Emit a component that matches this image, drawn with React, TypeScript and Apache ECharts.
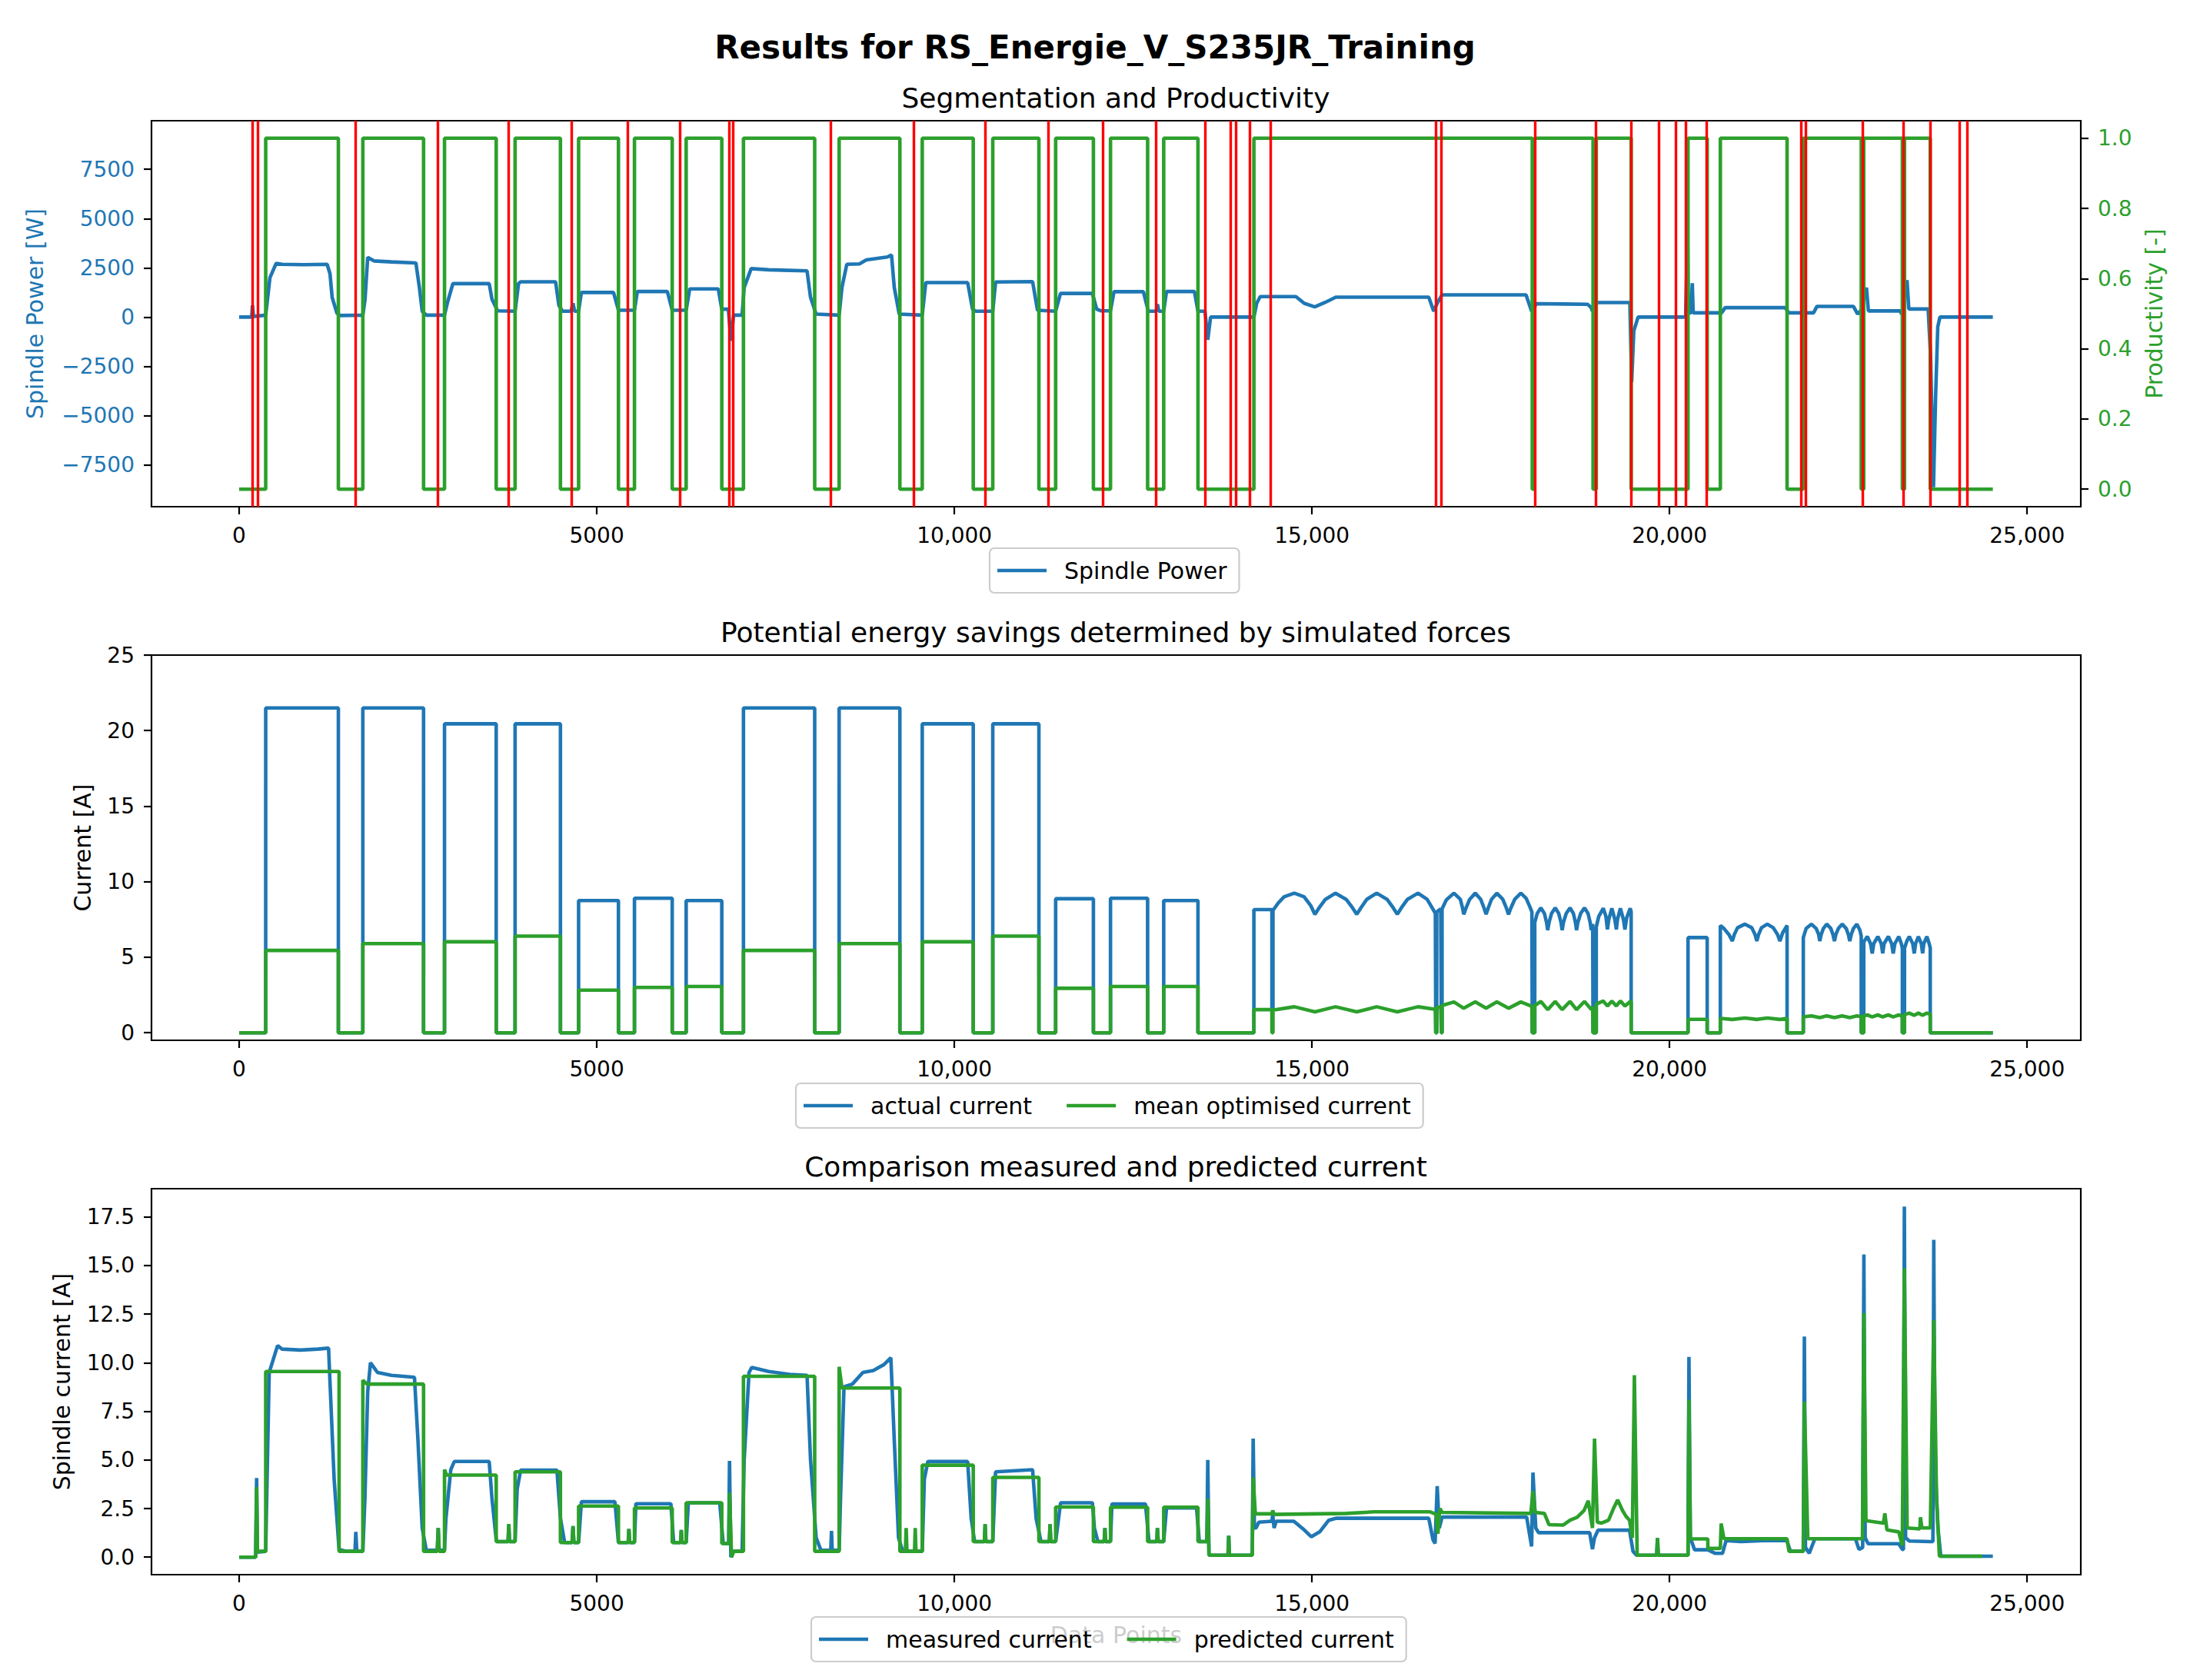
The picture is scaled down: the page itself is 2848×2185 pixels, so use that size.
import React, { useEffect, useRef } from 'react';
import * as echarts from 'echarts';

const FONT = 'DejaVu Sans';
const BLUE = '#1f77b4';
const GREEN = '#2ca02c';
const RED = '#ff0000';
const LINE_W = 4.6;

// tick positions
const xTicks = [0, 5000, 10000, 15000, 20000, 25000];
const powerTicks = [-7500, -5000, -2500, 0, 2500, 5000, 7500];
const productivityTicks = [0, 0.2, 0.4, 0.6, 0.8, 1];
const currentTicks = [0, 5, 10, 15, 20, 25];
const spindleCurrentTicks = [0, 2.5, 5, 7.5, 10, 12.5, 15, 17.5];

// segment boundaries (red vertical lines)
const segmentLines = [
  186, 264, 1621, 2773, 3770, 4648, 5430, 6162, 6856, 6905, 8272, 9434, 10430, 11318,
  12076, 12819, 13504, 13866, 13934, 14130, 14423, 16731, 16809, 18120, 18965, 19468,
  19850, 20082, 20222, 20520, 21840, 21902, 22700, 23272, 23650, 24058, 24164,
];

// productivity, value holds from x until the next point
const productivitySteps = [
  [0, 0], [371, 1], [1387, 0], [1729, 1], [2578, 0], [2871, 1], [3594, 0], [3858, 1],
  [4492, 0], [4746, 1], [5303, 0], [5527, 1], [6055, 0], [6250, 1], [6748, 0], [7051, 1],
  [8047, 0], [8389, 1], [9238, 0], [9551, 1], [10264, 0], [10537, 1], [11182, 0], [11416, 1],
  [11944, 0], [12183, 1], [12702, 0], [12927, 1], [13406, 0], [14188, 1], [18080, 0], [18110, 1],
  [18930, 0], [18975, 1], [19463, 0], [20258, 1], [20526, 0], [20710, 1], [21643, 0], [21870, 1],
  [22680, 0], [22715, 1], [23255, 0], [23285, 1], [23645, 0], [24520, 0],
];

// spindle power [W]
const spindlePower = [
  [0, 0], [175, 0], [186, 600], [200, 30], [322, 80], [371, 100], [430, 2000], [518, 2730],
  [600, 2680], [900, 2660], [1230, 2680], [1270, 2200], [1300, 1000], [1367, 200], [1416, 80],
  [1729, 100], [1760, 900], [1797, 3030], [1885, 2850], [2129, 2800], [2471, 2750], [2520, 1500],
  [2559, 300], [2617, 100], [2871, 100], [2910, 700], [2988, 1700], [3496, 1700], [3535, 900],
  [3613, 320], [3858, 300], [3906, 1700], [3936, 1790], [4424, 1790], [4470, 600], [4520, 300],
  [4640, 300], [4668, 700], [4690, 300], [4746, 300], [4785, 1250], [5234, 1250], [5303, 350],
  [5527, 350], [5567, 1300], [5987, 1300], [6055, 350], [6250, 350], [6299, 1430], [6699, 1430],
  [6748, 400], [6840, 400], [6875, -1200], [6914, 100], [7032, 100], [7061, 1500], [7159, 2460],
  [7403, 2400], [7940, 2350], [7989, 1000], [8067, 150], [8389, 100], [8428, 1500], [8496, 2680],
  [8672, 2700], [8770, 2900], [9063, 3050], [9121, 3150], [9160, 1500], [9229, 150], [9551, 100],
  [9600, 1750], [10186, 1750], [10254, 400], [10300, 300], [10537, 300], [10576, 1780],
  [11094, 1800], [11162, 350], [11416, 300], [11484, 1200], [11930, 1200], [11990, 400],
  [12050, 320], [12183, 320], [12232, 1290], [12643, 1290], [12711, 300], [12820, 300],
  [12839, 650], [12860, 300], [12927, 300], [12966, 1300], [13357, 1300], [13406, 300],
  [13504, 300], [13543, -1150], [13582, 0], [14188, 0], [14227, 700], [14276, 1040],
  [14775, 1040], [14892, 700], [15039, 520], [15186, 750], [15333, 1010], [16633, 1010],
  [16702, 300], [16751, 700], [16819, 1130], [17993, 1130], [18071, 300], [18139, 680],
  [18853, 650], [18900, 500], [18922, 300], [18990, 740], [19445, 740], [19470, -3290],
  [19500, -700], [19560, 0], [20225, 0], [20250, 4570], [20262, 200], [20300, 220],
  [20318, 1716], [20330, 218], [20727, 218], [20777, 480], [21617, 480], [21667, 218],
  [22013, 218], [22061, 545], [22570, 545], [22629, 155], [22680, 350], [22753, 1494],
  [22780, 312], [23222, 312], [23247, 150], [23320, 1872], [23345, 413], [23616, 413],
  [23650, -2000], [23690, -8630], [23720, -4000], [23750, -500], [23780, 0], [24520, 0],
];

// actual current [A]
const actualCurrent = [
  [0, 0], [371, 0], [371, 21.5], [1387, 21.5], [1387, 0],
  [1729, 0], [1729, 21.5], [2578, 21.5], [2578, 0],
  [2871, 0], [2871, 20.45], [3594, 20.45], [3594, 0],
  [3858, 0], [3858, 20.45], [4492, 20.45], [4492, 0],
  [4746, 0], [4746, 8.75], [5303, 8.75], [5303, 0],
  [5527, 0], [5527, 8.9], [6055, 8.9], [6055, 0],
  [6250, 0], [6250, 8.75], [6748, 8.75], [6748, 0],
  [7051, 0], [7051, 21.5], [8047, 21.5], [8047, 0],
  [8389, 0], [8389, 21.5], [9238, 21.5], [9238, 0],
  [9551, 0], [9551, 20.45], [10264, 20.45], [10264, 0],
  [10537, 0], [10537, 20.45], [11182, 20.45], [11182, 0],
  [11416, 0], [11416, 8.87], [11944, 8.87], [11944, 0],
  [12183, 0], [12183, 8.9], [12702, 8.9], [12702, 0],
  [12927, 0], [12927, 8.75], [13406, 8.75], [13406, 0],
  [14188, 0], [14188, 8.15], [14440, 8.15], [14440, 1.5], [14455, 1.5], [14455, 8.1],
  [14530, 8.6], [14610, 9.0], [14753, 9.24], [14890, 9.0], [14985, 8.4], [15041, 7.84],
  [15100, 8.27], [15188, 8.83], [15329, 9.24], [15478, 8.83], [15567, 8.27], [15627, 7.84],
  [15684, 8.27], [15766, 8.83], [15905, 9.24], [16050, 8.83], [16136, 8.27], [16193, 7.84],
  [16250, 8.27], [16335, 8.83], [16482, 9.24], [16610, 8.83], [16680, 8.27], [16725, 7.9],
  [16731, 0], [16745, 0], [16745, 8.0], [16800, 8.2], [16809, 0], [16819, 0], [16819, 8.2],
  [16880, 8.8], [16985, 9.24], [17075, 8.83], [17105, 8.27], [17122, 7.84],
  [17155, 8.27], [17205, 8.83], [17283, 9.24], [17360, 8.83], [17405, 8.27], [17435, 7.84],
  [17465, 8.27], [17510, 8.83], [17585, 9.24], [17668, 8.83], [17717, 8.27], [17748, 7.84],
  [17782, 8.27], [17835, 8.83], [17921, 9.24], [17995, 8.9], [18050, 8.3], [18075, 8.0],
  [18080, 0], [18115, 0], [18115, 7.3], [18150, 7.9], [18200, 8.27], [18250, 7.9],
  [18280, 7.3], [18296, 6.79], [18315, 7.3], [18350, 7.9], [18401, 8.27], [18450, 7.9],
  [18482, 7.3], [18498, 6.79], [18516, 7.3], [18555, 7.9], [18608, 8.27], [18655, 7.9],
  [18684, 7.3], [18699, 6.79], [18717, 7.3], [18757, 7.9], [18810, 8.27], [18860, 7.9],
  [18890, 7.3], [18905, 6.79], [18925, 7.2], [18930, 0], [18975, 0], [18975, 7.0],
  [19010, 7.7], [19073, 8.24], [19110, 7.7], [19131, 6.84], [19150, 7.5], [19193, 8.24],
  [19235, 7.5], [19256, 6.84], [19272, 7.5], [19312, 8.24], [19355, 7.5], [19376, 6.84],
  [19400, 7.6], [19450, 8.24], [19463, 8.0], [19463, 0], [20258, 0], [20258, 6.3],
  [20526, 6.3], [20526, 0],
  [20710, 0], [20710, 7.1], [20760, 6.9], [20830, 6.5], [20878, 6.07], [20905, 6.5],
  [20950, 6.95], [21054, 7.19], [21150, 6.95], [21195, 6.5], [21220, 6.07], [21245, 6.5],
  [21285, 6.95], [21367, 7.19], [21450, 6.95], [21510, 6.5], [21543, 6.07], [21580, 6.6],
  [21643, 7.1], [21643, 0], [21870, 0], [21870, 6.3], [21910, 6.9], [21983, 7.19],
  [22050, 6.9], [22085, 6.5], [22100, 6.07], [22120, 6.5], [22150, 6.9], [22198, 7.19],
  [22255, 6.9], [22285, 6.5], [22305, 6.07], [22325, 6.5], [22360, 6.9], [22413, 7.19],
  [22470, 6.9], [22500, 6.5], [22520, 6.07], [22540, 6.5], [22570, 6.9], [22619, 7.19],
  [22660, 6.8], [22680, 6.4], [22680, 0], [22715, 0], [22715, 6.0], [22765, 6.37],
  [22810, 5.9], [22834, 5.25], [22855, 5.9], [22912, 6.37], [22960, 5.9], [22980, 5.25],
  [23000, 5.9], [23059, 6.37], [23105, 5.9], [23127, 5.25], [23150, 5.9], [23205, 6.37],
  [23240, 5.9], [23255, 5.6], [23255, 0], [23285, 0], [23285, 5.6], [23320, 6.1],
  [23352, 6.37], [23400, 5.9], [23421, 5.25], [23440, 5.9], [23479, 6.37], [23520, 5.9],
  [23538, 5.25], [23555, 5.9], [23597, 6.37], [23630, 5.9], [23645, 5.6], [23645, 0],
  [24520, 0],
];

// mean optimised current [A]
const optimisedCurrent = [
  [0, 0], [371, 0], [371, 5.45], [1387, 5.45], [1387, 0],
  [1729, 0], [1729, 5.9], [2578, 5.9], [2578, 0],
  [2871, 0], [2871, 6.02], [3594, 6.02], [3594, 0],
  [3858, 0], [3858, 6.4], [4492, 6.4], [4492, 0],
  [4746, 0], [4746, 2.82], [5303, 2.82], [5303, 0],
  [5527, 0], [5527, 3.0], [6055, 3.0], [6055, 0],
  [6250, 0], [6250, 3.06], [6748, 3.06], [6748, 0],
  [7051, 0], [7051, 5.45], [8047, 5.45], [8047, 0],
  [8389, 0], [8389, 5.9], [9238, 5.9], [9238, 0],
  [9551, 0], [9551, 6.02], [10264, 6.02], [10264, 0],
  [10537, 0], [10537, 6.4], [11182, 6.4], [11182, 0],
  [11416, 0], [11416, 2.94], [11944, 2.94], [11944, 0],
  [12183, 0], [12183, 3.06], [12702, 3.06], [12702, 0],
  [12927, 0], [12927, 3.06], [13406, 3.06], [13406, 0],
  [14188, 0], [14188, 1.53], [14440, 1.53], [14440, 0], [14455, 0], [14455, 1.5],
  [14753, 1.72], [15041, 1.38], [15329, 1.72], [15627, 1.38], [15905, 1.72], [16193, 1.38],
  [16482, 1.72], [16725, 1.55], [16731, 0], [16745, 0], [16745, 1.7], [16800, 1.7],
  [16809, 0], [16819, 0], [16819, 1.8], [16985, 2.04], [17122, 1.62], [17283, 2.04],
  [17435, 1.62], [17585, 2.04], [17748, 1.62], [17921, 2.04], [18075, 1.75], [18080, 0],
  [18115, 0], [18115, 1.8], [18200, 2.07], [18296, 1.53], [18401, 2.07], [18498, 1.53],
  [18608, 2.07], [18699, 1.53], [18810, 2.07], [18905, 1.55], [18925, 1.7], [18930, 0],
  [18975, 0], [18975, 1.9], [19073, 2.1], [19131, 1.77], [19193, 2.1], [19256, 1.77],
  [19312, 2.1], [19376, 1.77], [19457, 2.1], [19463, 2.0], [19463, 0], [20258, 0],
  [20258, 0.89], [20526, 0.89], [20526, 0],
  [20710, 0], [20710, 0.95], [20878, 0.88], [21054, 0.98], [21220, 0.88], [21367, 0.98],
  [21543, 0.88], [21643, 0.95], [21643, 0], [21870, 0], [21870, 1.05], [21983, 1.12],
  [22100, 1.0], [22198, 1.12], [22305, 1.0], [22413, 1.12], [22520, 1.0], [22619, 1.12],
  [22680, 1.07], [22680, 0], [22715, 0], [22715, 1.1], [22765, 1.18], [22834, 1.05],
  [22912, 1.18], [22980, 1.05], [23059, 1.18], [23127, 1.05], [23205, 1.18], [23255, 1.1],
  [23255, 0], [23285, 0], [23285, 1.2], [23352, 1.3], [23421, 1.15], [23479, 1.3],
  [23538, 1.15], [23597, 1.3], [23645, 1.22], [23645, 0], [24520, 0],
];

// measured spindle current [A]
const measuredCurrent = [
  [0, 0], [230, 0], [244, 4.07], [255, 0.26], [371, 0.3], [390, 4.0], [420, 9.5], [537, 10.88],
  [600, 10.7], [859, 10.65], [1100, 10.7], [1250, 10.75], [1270, 9.0], [1328, 4.0], [1397, 0.4],
  [1500, 0.3], [1620, 0.3], [1631, 1.3], [1645, 0.3], [1729, 0.3], [1758, 3.0], [1797, 8.5],
  [1836, 10.0], [1934, 9.5], [2129, 9.35], [2451, 9.25], [2500, 6.0], [2559, 1.5], [2617, 0.35],
  [2770, 0.35], [2783, 1.5], [2796, 0.35], [2871, 0.4], [2891, 2.0], [2959, 4.5], [3008, 4.92],
  [3496, 4.92], [3535, 3.0], [3594, 0.9], [3600, 0.8], [3760, 0.8], [3770, 1.7], [3780, 0.8],
  [3858, 0.8], [3887, 3.5], [3936, 4.48], [4443, 4.48], [4492, 2.0], [4551, 0.75], [4655, 0.75],
  [4668, 1.6], [4680, 0.75], [4746, 0.75], [4785, 2.85], [5254, 2.85], [5303, 0.75],
  [5440, 0.75], [5449, 1.45], [5460, 0.75], [5527, 0.75], [5547, 2.75], [6036, 2.75],
  [6075, 0.75], [6172, 0.75], [6182, 1.4], [6192, 0.75], [6250, 0.75], [6280, 2.8],
  [6719, 2.8], [6768, 0.7], [6845, 0.7], [6856, 4.95], [6875, 0.0], [6914, 0.3], [7032, 0.3],
  [7061, 5.0], [7129, 9.5], [7168, 9.76], [7403, 9.55], [7696, 9.4], [7940, 9.35], [7989, 5.0],
  [8067, 1.0], [8135, 0.35], [8272, 0.35], [8282, 1.35], [8292, 0.35], [8389, 0.35],
  [8408, 3.0], [8457, 8.76], [8574, 8.9], [8721, 9.5], [8867, 9.6], [9014, 9.9], [9112, 10.26],
  [9160, 6.0], [9219, 1.0], [9278, 0.3], [9551, 0.3], [9580, 4.0], [9629, 4.92], [10186, 4.92],
  [10235, 2.0], [10283, 0.8], [10420, 0.8], [10430, 1.7], [10440, 0.8], [10537, 0.8],
  [10576, 4.39], [10620, 4.4], [11094, 4.5], [11143, 2.0], [11211, 0.8], [11328, 0.8],
  [11338, 1.7], [11348, 0.8], [11416, 0.8], [11485, 2.8], [11930, 2.8], [11958, 1.5],
  [12007, 0.8], [12095, 0.8], [12105, 1.5], [12115, 0.8], [12183, 0.8], [12203, 2.74],
  [12672, 2.74], [12721, 0.8], [12830, 0.8], [12839, 1.5], [12850, 0.8], [12927, 0.8],
  [12966, 2.53], [13386, 2.53], [13425, 0.8], [13530, 0.8], [13543, 5.0], [13560, 0.1],
  [13826, 0.1], [13836, 1.1], [13846, 0.1], [14165, 0.1], [14178, 6.1], [14195, 1.5],
  [14218, 1.5], [14257, 1.8], [14440, 1.85], [14452, 2.2], [14470, 1.5], [14500, 1.85],
  [14746, 1.85], [14892, 1.4], [14990, 1.05], [15108, 1.3], [15235, 1.9], [15333, 2.0],
  [16633, 2.0], [16692, 0.9], [16721, 0.7], [16751, 3.65], [16780, 1.5], [16819, 2.06],
  [18002, 2.06], [18041, 1.2], [18071, 0.55], [18090, 4.35], [18129, 1.5], [18168, 1.26],
  [18883, 1.26], [18922, 0.41], [18951, 1.0], [19000, 1.39], [19440, 1.39], [19489, 0.3],
  [19538, 0.1], [19820, 0.1], [19831, 0.98], [19842, 0.1], [20258, 0.1], [20271, 10.3],
  [20290, 1.0], [20350, 0.38], [20535, 0.38], [20633, 0.2], [20741, 0.2], [20790, 0.85],
  [21000, 0.8], [21300, 0.85], [21641, 0.85], [21690, 0.3], [21870, 0.3], [21885, 11.35],
  [21900, 0.5], [21953, 0.2], [22032, 0.95], [22599, 0.95], [22648, 0.4], [22700, 0.5],
  [22717, 15.57], [22735, 1.0], [22776, 0.69], [23205, 0.69], [23254, 0.4], [23270, 0.4],
  [23283, 18.03], [23300, 1.0], [23352, 0.83], [23646, 0.8], [23682, 0.8], [23694, 16.32],
  [23710, 5.0], [23753, 1.5], [23792, 0.05], [24520, 0.05],
];

// predicted spindle current [A]
const predictedCurrent = [
  [0, 0], [232, 0], [244, 3.6], [256, 0.3], [371, 0.3], [371, 9.55], [1397, 9.55], [1397, 0.3],
  [1729, 0.3], [1729, 9.1], [1787, 8.9], [2578, 8.9], [2578, 0.3], [2770, 0.3], [2783, 1.5],
  [2796, 0.3], [2871, 0.3], [2871, 4.5], [2900, 4.22], [3594, 4.22], [3594, 0.8], [3760, 0.8],
  [3770, 1.7], [3780, 0.8], [3858, 0.8], [3858, 4.39], [4492, 4.39], [4492, 0.75], [4655, 0.75],
  [4668, 1.6], [4680, 0.75], [4746, 0.75], [4746, 2.63], [5303, 2.63], [5303, 0.75],
  [5440, 0.75], [5449, 1.45], [5460, 0.75], [5527, 0.75], [5527, 2.53], [6055, 2.53],
  [6055, 0.75], [6172, 0.75], [6182, 1.4], [6192, 0.75], [6250, 0.75], [6250, 2.8],
  [6748, 2.8], [6748, 0.7], [6845, 0.7], [6856, 3.32], [6885, 0.0], [6914, 0.3], [7051, 0.3],
  [7051, 9.3], [8047, 9.3], [8047, 0.3], [8389, 0.3], [8389, 9.79], [8428, 8.7], [9238, 8.7],
  [9238, 0.3], [9315, 0.3], [9326, 1.5], [9337, 0.3], [9443, 0.3], [9453, 1.5], [9463, 0.3],
  [9551, 0.3], [9551, 4.73], [10264, 4.73], [10264, 0.8], [10420, 0.8], [10430, 1.7],
  [10440, 0.8], [10537, 0.8], [10537, 4.1], [11182, 4.1], [11182, 0.8], [11328, 0.8],
  [11338, 1.7], [11348, 0.8], [11416, 0.8], [11416, 2.58], [11944, 2.58], [11944, 0.8],
  [12095, 0.8], [12105, 1.5], [12115, 0.8], [12183, 0.8], [12183, 2.57], [12702, 2.57],
  [12702, 0.8], [12830, 0.8], [12839, 1.5], [12850, 0.8], [12927, 0.8], [12927, 2.57],
  [13406, 2.57], [13406, 0.8], [13530, 0.8], [13543, 3.0], [13560, 0.1], [13826, 0.1],
  [13836, 1.1], [13846, 0.1], [14165, 0.1], [14178, 4.1], [14208, 2.23], [14440, 2.23],
  [14452, 2.4], [14470, 2.2], [15479, 2.25], [15870, 2.33], [16653, 2.33], [16740, 2.2],
  [16760, 1.2], [16790, 2.5], [16820, 2.3], [18060, 2.25], [18090, 3.4], [18120, 2.3],
  [18250, 2.25], [18315, 1.67], [18511, 1.65], [18609, 1.9], [18707, 2.05], [18804, 2.4],
  [18863, 2.9], [18922, 1.5], [18951, 6.1], [18990, 1.8], [19049, 1.75], [19147, 1.9],
  [19215, 2.5], [19274, 2.95], [19342, 2.4], [19391, 2.1], [19440, 1.9], [19479, 1.0],
  [19508, 9.36], [19547, 0.1], [19820, 0.1], [19831, 0.98], [19842, 0.1], [20258, 0.1],
  [20271, 8.1], [20291, 0.94], [20535, 0.94], [20535, 0.45], [20710, 0.45], [20721, 1.73],
  [20760, 0.95], [21641, 0.95], [21670, 0.3], [21870, 0.3], [21885, 8.0], [21933, 0.95],
  [22697, 0.95], [22717, 12.55], [22746, 1.88], [22990, 1.75], [23010, 2.25], [23039, 1.4],
  [23205, 1.3], [23254, 0.6], [23283, 14.86], [23322, 1.5], [23499, 1.45], [23508, 2.05],
  [23528, 1.5], [23646, 1.5], [23694, 12.2], [23733, 3.0], [23773, 0.05], [24374, 0.05],
];

const minusSign = (s: string) => s.replace('-', '\u2212');
const formatX = (v: number) => (v >= 10000 ? v.toLocaleString('en-US') : String(v));

const tickLine = { color: '#000', width: 2.2 };
const tickFont = { fontFamily: FONT, fontSize: 28 };

const makeXAxis = (gridIndex: number, name?: string) => ({
  type: 'value',
  gridIndex,
  min: -1226,
  max: 25750,
  name,
  nameLocation: 'middle',
  nameGap: 63,
  nameTextStyle: { fontFamily: FONT, fontSize: 30, color: '#000' },
  axisLine: { show: false, onZero: false },
  axisTick: { show: true, customValues: xTicks, length: 10, lineStyle: tickLine },
  axisLabel: { customValues: xTicks, formatter: formatX, margin: 23, color: '#000', ...tickFont },
  splitLine: { show: false },
});

const makeYAxis = (
  gridIndex: number,
  min: number,
  max: number,
  ticks: number[],
  name: string,
  nameGap: number,
  color: string,
  formatter: (v: number) => string,
  position = 'left'
) => ({
  type: 'value',
  gridIndex,
  position,
  min,
  max,
  name,
  nameLocation: 'middle',
  nameRotate: 90,
  nameGap,
  nameTextStyle: { fontFamily: FONT, fontSize: 30, color },
  axisLine: { show: false, onZero: false },
  axisTick: { show: true, customValues: ticks, length: 10, lineStyle: tickLine },
  axisLabel: { customValues: ticks, formatter, margin: 22, color, ...tickFont },
  splitLine: { show: false },
});

const makeLegend = (names: string[], left: number, top: number, itemGap: number) => ({
  data: names,
  left,
  top,
  orient: 'horizontal',
  icon: 'rect',
  itemWidth: 64,
  itemHeight: LINE_W,
  itemGap,
  padding: [12, 16, 12, 10],
  borderColor: '#cccccc',
  borderWidth: 2.2,
  borderRadius: 6,
  backgroundColor: 'rgba(255,255,255,0.8)',
  selectedMode: false,
  textStyle: { fontFamily: FONT, fontSize: 30, color: '#000', lineHeight: 34, padding: [0, 0, 0, 18] },
});

const titleAt = (text: string, top: number, left: number, fontSize: number, fontWeight: string) => ({
  text,
  left,
  top,
  textAlign: 'center',
  textVerticalAlign: 'middle',
  padding: 0,
  textStyle: { fontFamily: FONT, fontSize, fontWeight, color: '#000' },
});

const lineSeries = (name: string, data: number[][], color: string, xAxisIndex: number, yAxisIndex: number, z: number) => ({
  name,
  type: 'line',
  data,
  xAxisIndex,
  yAxisIndex,
  color,
  symbol: 'none',
  showSymbol: false,
  lineStyle: { color, width: LINE_W },
  z,
  silent: true,
});

const App: React.FC = () => {
  const chartRef = useRef<HTMLDivElement>(null);

  useEffect(() => {
    if (!chartRef.current) return;
    document.body.style.margin = '0';
    const chart = echarts.init(chartRef.current, null, { renderer: 'svg' });

    const grid = [
      { left: 197, top: 157, width: 2509, height: 502 },
      { left: 197, top: 852, width: 2509, height: 501 },
      { left: 197, top: 1546, width: 2509, height: 502 },
    ].map((g) => ({ ...g, show: true, borderColor: '#000', borderWidth: 2.2, outerBoundsMode: 'none' }));

    const productivity: any = lineSeries('Productivity', productivitySteps, GREEN, 0, 1, 3);
    productivity.step = 'end';
    productivity.markLine = {
      silent: true,
      symbol: ['none', 'none'],
      label: { show: false },
      lineStyle: { color: RED, width: 3.4, type: 'solid' },
      emphasis: { disabled: true },
      data: segmentLines.map((x) => ({ xAxis: x })),
    };

    const option: any = {
      animation: false,
      backgroundColor: '#ffffff',
      textStyle: { fontFamily: FONT },
      title: [
        titleAt('Results for RS_Energie_V_S235JR_Training', 61, 1424, 42, 'bold'),
        titleAt('Segmentation and Productivity', 127, 1451, 36, 'normal'),
        titleAt('Potential energy savings determined by simulated forces', 822, 1451, 36, 'normal'),
        titleAt('Comparison measured and predicted current', 1517, 1451, 36, 'normal'),
      ],
      legend: [
        makeLegend(['Spindle Power'], 1287, 713, 45),
        makeLegend(['actual current', 'mean optimised current'], 1035, 1409, 45),
        makeLegend(['measured current', 'predicted current'], 1055, 2103, 46),
      ],
      grid,
      xAxis: [makeXAxis(0), makeXAxis(1), makeXAxis(2, 'Data Points')],
      yAxis: [
        makeYAxis(0, -9620, 9965, powerTicks, 'Spindle Power [W]', 137, BLUE, (v) => minusSign(String(v))),
        makeYAxis(0, -0.05, 1.05, productivityTicks, 'Productivity [-]', 80, GREEN, (v) => v.toFixed(1), 'right'),
        makeYAxis(1, -0.5, 25, currentTicks, 'Current [A]', 75, '#000', (v) => String(v)),
        makeYAxis(2, -0.9, 18.95, spindleCurrentTicks, 'Spindle current [A]', 102, '#000', (v) => minusSign(v.toFixed(1))),
      ],
      series: [
        lineSeries('Spindle Power', spindlePower, BLUE, 0, 0, 2),
        productivity,
        lineSeries('actual current', actualCurrent, BLUE, 1, 2, 2),
        lineSeries('mean optimised current', optimisedCurrent, GREEN, 1, 2, 3),
        lineSeries('measured current', measuredCurrent, BLUE, 2, 3, 2),
        lineSeries('predicted current', predictedCurrent, GREEN, 2, 3, 3),
      ],
    };

    chart.setOption(option);

    return () => {
      chart.dispose();
    };
  }, []);

  return (
    <div
      ref={chartRef}
      style={{ position: 'absolute', left: 0, top: 0, width: 2848, height: 2185, background: '#fff' }}
    />
  );
};

export default App;
